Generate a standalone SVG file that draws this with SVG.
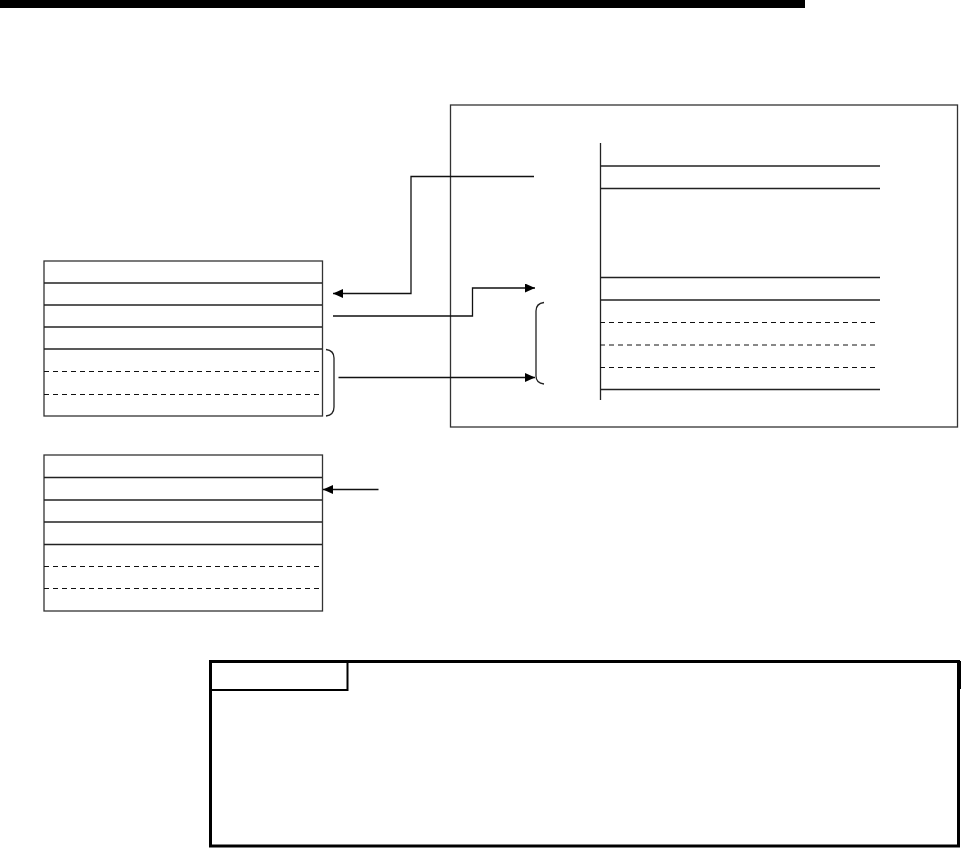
<svg xmlns="http://www.w3.org/2000/svg" width="961" height="849" viewBox="0 0 961 849">
<style>
.ln{stroke:#222;stroke-width:1.3;fill:none}
.dl{stroke:#111;stroke-width:1;fill:none;stroke-dasharray:5,4}
.bx{stroke:#333;stroke-width:1.3;fill:#fff}
.cn{stroke:#111;stroke-width:1.3;fill:none}
</style>
<defs>
<marker id="ah" markerUnits="userSpaceOnUse" markerWidth="11" markerHeight="10" refX="10" refY="4.5" orient="auto">
<path d="M0,0 L10,4.5 L0,9 z" fill="#000"/>
</marker>
</defs>
<rect id="topbar" x="0" y="0" width="805" height="8" fill="#000"/>
<g id="table1">
<rect class="bx" x="44" y="261" width="278.5" height="155"/>
<line class="ln" x1="44" y1="283" x2="322" y2="283"/>
<line class="ln" x1="44" y1="305" x2="322" y2="305"/>
<line class="ln" x1="44" y1="327" x2="322" y2="327"/>
<line class="ln" x1="44" y1="349" x2="322" y2="349"/>
<line class="dl" x1="44" y1="371.5" x2="321" y2="371.5"/>
<line class="dl" x1="44" y1="394.5" x2="321" y2="394.5"/>
</g>
<g id="brace1">
<path class="ln" d="M326,349.5 Q334,350.5 334,358 L334,407 Q334,415 326,416"/>
</g>
<g id="table2">
<rect class="bx" x="44" y="455" width="278.5" height="156"/>
<line class="ln" x1="44" y1="477.5" x2="322" y2="477.5"/>
<line class="ln" x1="44" y1="500" x2="322" y2="500"/>
<line class="ln" x1="44" y1="522" x2="322" y2="522"/>
<line class="ln" x1="44" y1="544.5" x2="322" y2="544.5"/>
<line class="dl" x1="44" y1="566.5" x2="321" y2="566.5"/>
<line class="dl" x1="44" y1="588.5" x2="321" y2="588.5"/>
</g>
<g id="panel">
<rect class="bx" x="450.5" y="105" width="507" height="322" fill="none"/>
<line class="ln" x1="600.5" y1="143" x2="600.5" y2="400"/>
<line class="ln" x1="600" y1="166" x2="880" y2="166"/>
<line class="ln" x1="600" y1="188.5" x2="880" y2="188.5"/>
<line class="ln" x1="600" y1="277.5" x2="880" y2="277.5"/>
<line class="ln" x1="600" y1="300" x2="880" y2="300"/>
<line class="dl" x1="600" y1="322.5" x2="878" y2="322.5"/>
<line class="dl" x1="600" y1="345" x2="878" y2="345"/>
<line class="dl" x1="600" y1="367.5" x2="878" y2="367.5"/>
<line class="ln" x1="600" y1="389.5" x2="880" y2="389.5"/>
</g>
<g id="brace2">
<path class="ln" d="M544,302.5 Q536,303.5 536,311 L536,376 Q536,383 544,384"/>
</g>
<g id="connectors">
<path class="cn" d="M534,176.5 L411,176.5 L411,293.5 L333,293.5" marker-end="url(#ah)"/>
<path class="cn" d="M333,316 L472.5,316 L472.5,288 L535,288" marker-end="url(#ah)"/>
<path class="cn" d="M338.5,377.5 L535,377.5" marker-end="url(#ah)"/>
<path class="cn" d="M378.5,489.5 L323,489.5" marker-end="url(#ah)"/>
</g>
<g id="note">
<rect x="210.5" y="661.5" width="748" height="184.5" fill="none" stroke="#000" stroke-width="3"/>
<path d="M210,690 L347.5,690 L347.5,662" fill="none" stroke="#000" stroke-width="2"/>
<line x1="960" y1="661" x2="960" y2="689" stroke="#000" stroke-width="2"/>
</g>
</svg>
